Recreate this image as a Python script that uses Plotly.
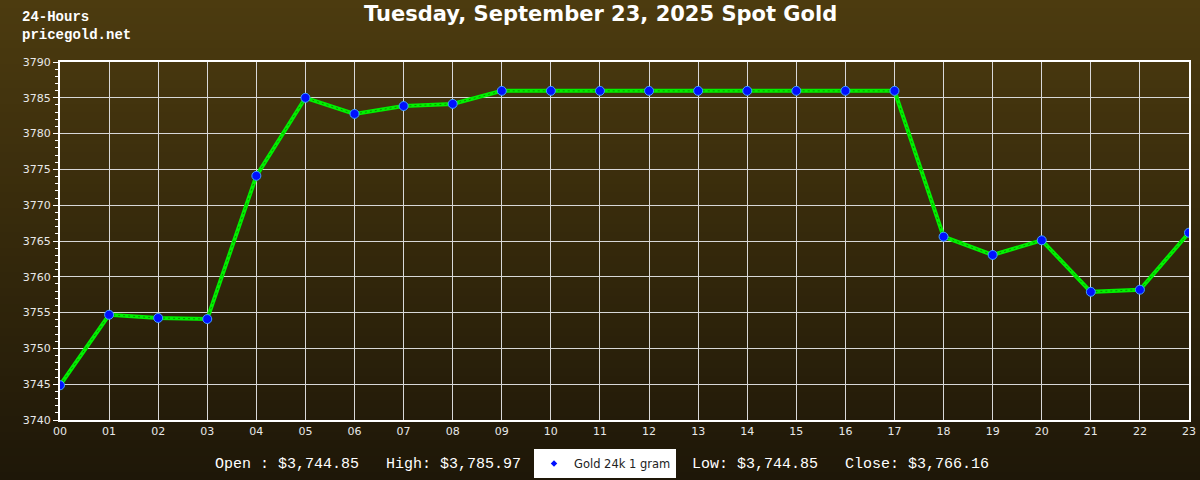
import plotly.graph_objects as go

hours = ["00", "01", "02", "03", "04", "05", "06", "07", "08", "09", "10", "11",
         "12", "13", "14", "15", "16", "17", "18", "19", "20", "21", "22", "23"]
prices = [3744.85, 3754.7, 3754.25, 3754.1, 3774.1, 3785.0, 3782.75, 3783.85,
          3784.15, 3785.97, 3785.97, 3785.97, 3785.97, 3785.97, 3785.97, 3785.97,
          3785.97, 3785.97, 3765.6, 3763.05, 3765.1, 3757.9, 3758.2, 3766.16]
title_text = "Tuesday, September 23, 2025 Spot Gold"
series_name = "Gold 24k 1 gram"
corner_lines = ["24-Hours", "pricegold.net"]
stats = ["Open : $3,744.85", "High: $3,785.97", "Low: $3,744.85", "Close: $3,766.16"]
stats_x_px = [213, 384, 690, 843]

W, H = 1200, 480
ML, MR, MT, MB = 60, 11, 62, 60
pw, ph = W - ML - MR, H - MT - MB


def px_x(p):
    return (p - ML) / pw


def px_y(p):
    return (H - MB - p) / ph


fig = go.Figure()
fig.add_trace(go.Scatter(
    x=list(range(len(hours))), y=prices, mode="lines",
    line=dict(color="#00f000", width=4),
    showlegend=False, hoverinfo="skip"))
fig.add_trace(go.Scatter(
    x=list(range(len(hours))), y=prices, mode="lines",
    line=dict(color="#0c9000", width=1, dash="2px,3px"),
    showlegend=False, hoverinfo="skip"))
fig.add_trace(go.Scatter(
    x=[None], y=[None], mode="markers", name=series_name,
    marker=dict(color="#0010ff", size=5, symbol="diamond")))
fig.add_trace(go.Scatter(
    x=list(range(len(hours))), y=prices, mode="markers",
    marker=dict(color="#0010ff", size=9, line=dict(color="#40a0ff", width=1)),
    showlegend=False, hoverinfo="skip"))

# gradient background via bands
top = (76, 59, 15)
bot = (30, 23, 8)
n = 60
shapes = []
for i in range(n):
    t = i / (n - 1)
    c = tuple(round(top[k] + (bot[k] - top[k]) * t) for k in range(3))
    p0 = H * i / n
    p1 = min(H, H * (i + 1) / n + 1)
    shapes.append(dict(
        type="rect", xref="paper", yref="paper", layer="below",
        x0=px_x(0), x1=px_x(W), y0=px_y(p1), y1=px_y(p0),
        fillcolor="rgb(%d,%d,%d)" % c, line=dict(width=0)))

annotations = [
    dict(text=title_text, x=px_x(600), y=px_y(14), xref="paper", yref="paper",
         xanchor="center", yanchor="middle", showarrow=False,
         font=dict(family="DejaVu Sans", size=21, color="white", weight="bold")),
]
for i, s in enumerate(corner_lines):
    annotations.append(dict(
        text=s, x=px_x(20), y=px_y(17 + 18 * i), xref="paper", yref="paper",
        xanchor="left", yanchor="middle", showarrow=False,
        font=dict(family="Liberation Mono", size=14, color="white", weight="bold")))
for s, px in zip(stats, stats_x_px):
    annotations.append(dict(
        text=s, x=px_x(px), y=px_y(464), xref="paper", yref="paper",
        xanchor="left", yanchor="middle", showarrow=False,
        font=dict(family="Liberation Mono", size=15, color="white")))

fig.update_layout(
    width=W, height=H,
    margin=dict(l=ML, r=MR, t=MT, b=MB, pad=0, autoexpand=False),
    paper_bgcolor="#2a200a", plot_bgcolor="rgba(0,0,0,0)",
    shapes=shapes, annotations=annotations,
    showlegend=True,
    legend=dict(xref="container", yref="container",
                x=534 / W, y=1 - 449 / H, xanchor="left", yanchor="top",
                bgcolor="white", borderwidth=0, orientation="v",
                font=dict(family="DejaVu Sans", size=11.5, color="#222"),
                itemwidth=30, tracegroupgap=0),
    xaxis=dict(range=[0, 23], tickmode="array", tickvals=list(range(len(hours))),
               ticktext=hours, showgrid=True, gridcolor="#d8d8d8", gridwidth=1,
               showline=True, linecolor="white", linewidth=2, mirror=True,
               ticks="", zeroline=False, automargin=False,
               tickfont=dict(family="DejaVu Sans", size=11, color="#e8e8e8")),
    yaxis=dict(range=[3740, 3790], dtick=5, showgrid=True, gridcolor="#d8d8d8",
               gridwidth=1, showline=True, linecolor="white", linewidth=2, mirror=True,
               ticks="outside", ticklen=5, tickcolor="white", zeroline=False,
               tickformat="d", automargin=False,
               minor=dict(dtick=1, ticks="outside", ticklen=3, tickcolor="white",
                          showgrid=False),
               tickfont=dict(family="DejaVu Sans", size=11, color="#e8e8e8")),
)
# post_script closes the promise callback so the body reset runs synchronously
fig.write_html(
    "out.html",
    config={"displayModeBar": False},
    post_script="}); document.body.style.margin='0'; (function(){",
)
